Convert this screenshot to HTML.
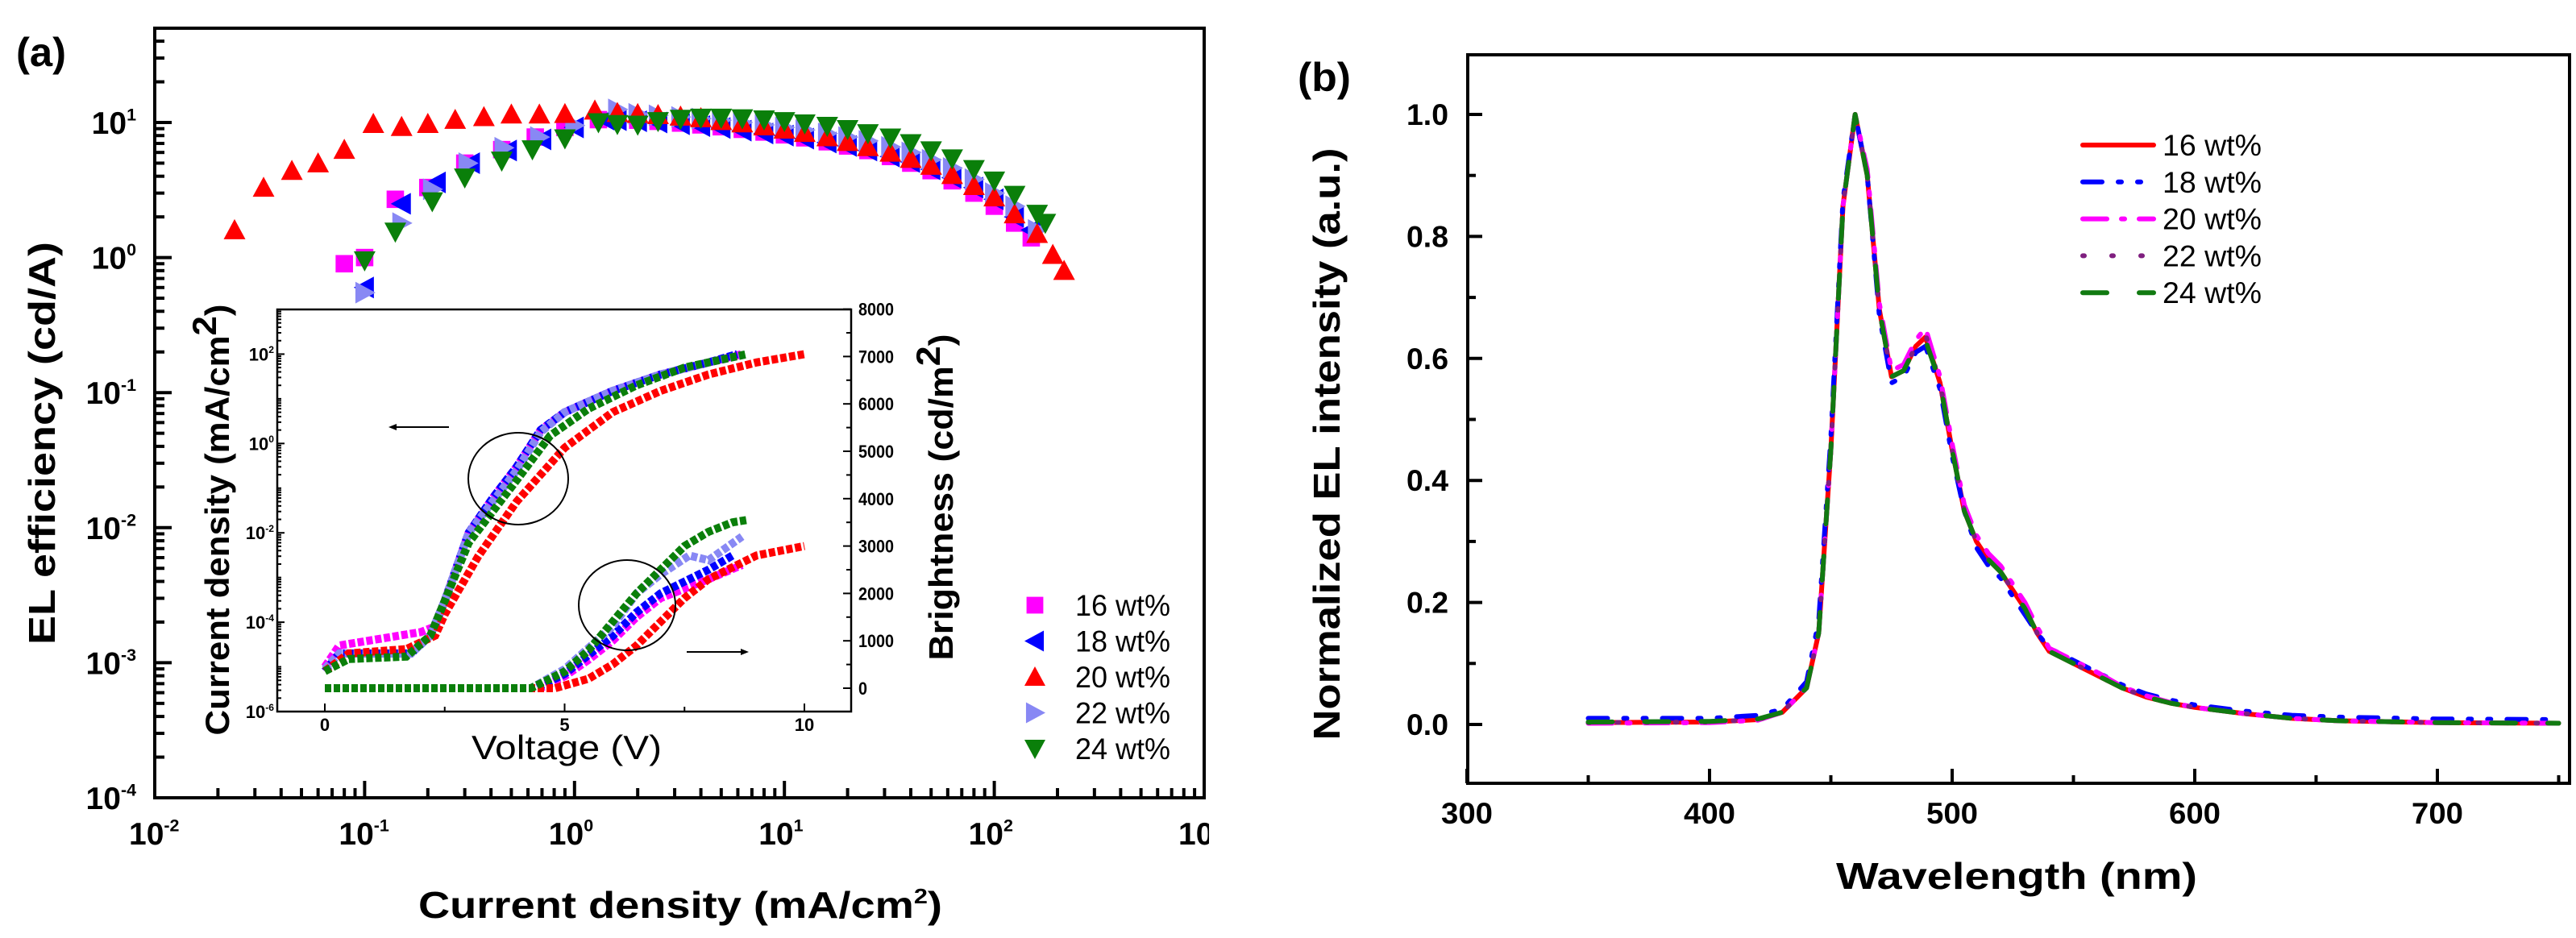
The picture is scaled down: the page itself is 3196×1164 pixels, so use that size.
<!DOCTYPE html>
<html><head><meta charset="utf-8"><style>
html,body{margin:0;padding:0;background:#fff;}
svg{display:block;font-family:"Liberation Sans",sans-serif;}
</style></head><body>
<svg id="fig" width="3196" height="1164" viewBox="0 0 3196 1164" xmlns="http://www.w3.org/2000/svg">
<defs><clipPath id="clipA"><rect x="0" y="0" width="1500" height="1164"/></clipPath></defs>
</svg>
<script>
// ---------- Panel (a) main data: EL efficiency vs current density ----------
const seriesNames = ["16 wt%","18 wt%","20 wt%","22 wt%","24 wt%"];
const x16 = [0.08,0.1,0.14,0.2,0.3,0.45,0.65,0.9,1.3,1.6,2,2.5,3.2,4,5,6.3,8,10,12.5,16,20,25,32,40,50,63,80,100,125,150];
const y16 = [0.9,1.0,2.7,3.3,5.0,6.3,7.8,9.2,10.5,10.6,10.4,10.2,9.9,9.6,9.3,8.9,8.5,8.1,7.7,7.2,6.7,6.2,5.6,5.0,4.4,3.7,3.0,2.4,1.8,1.4];
const x18 = [0.1,0.15,0.22,0.32,0.48,0.7,1.0,1.4,1.6,2,2.5,3.2,4,5,6.3,8,10,12.5,16,20,25,32,40,50,63,80,100,125,150];
const y18 = [0.6,2.5,3.6,5.0,6.2,7.5,9.2,10.5,10.4,10.2,10.0,9.7,9.4,9.1,8.7,8.3,8.0,7.6,7.1,6.7,6.2,5.6,5.1,4.5,3.9,3.3,2.7,2.0,1.6];
const x20 = [0.024,0.033,0.045,0.06,0.08,0.11,0.15,0.2,0.27,0.37,0.5,0.68,0.9,1.25,1.6,2,2.5,3.2,4,5,6.3,8,10,12.5,16,20,25,32,40,50,63,80,100,125,160,190,215];
const y20 = [1.6,3.3,4.4,5.0,6.3,9.8,9.3,9.8,10.5,11,11.5,11.5,11.6,12.3,11.8,11.6,11.4,11.1,10.8,10.3,9.9,9.4,8.9,8.4,7.8,7.2,6.6,6.0,5.4,4.8,4.1,3.4,2.8,2.1,1.5,1.05,0.8];
const x22 = [0.1,0.15,0.21,0.31,0.46,0.68,1.0,1.6,2,2.5,3.2,4,5,6.3,8,10,12.5,16,20,25,32,40,50,63,80,100,125,160];
const y22 = [0.55,1.8,3.2,5.0,6.5,7.8,9.5,12.5,11.6,11.3,11.0,10.7,10.4,10.0,9.6,9.2,8.8,8.3,7.8,7.3,6.6,6.0,5.3,4.6,3.8,3.0,2.4,1.6];
const x24 = [0.1,0.14,0.21,0.3,0.45,0.63,0.9,1.3,1.6,2,2.5,3.2,4,5,6.3,8,10,12.5,16,20,25,32,40,50,63,80,100,125,160,175];
const y24 = [0.95,1.55,2.6,3.9,5.2,6.3,7.6,10.0,9.7,9.6,10.2,10.6,10.8,10.8,10.7,10.5,10.2,9.8,9.4,8.9,8.3,7.7,7.0,6.2,5.4,4.5,3.7,2.9,2.1,1.8];
const aXTicks = ["-2","-1","0","1","2","3"];
const aYTicks = ["1","0","-1","-2","-3","-4"];

// ---------- Inset data: J-V and L-V ----------
const vJ16 = [0,0.3,1,2,2.3,2.5,3,3.5,4,4.5,5,6,7,8,8.7];
const j16  = [1e-5,3e-5,4e-5,6e-5,8e-5,3e-4,1e-2,0.06,0.3,2,5,15,35,65,100];
const vJ18 = [0,0.3,1,1.8,2.2,2.5,3,3.5,4,4.5,5,6,7,8,8.6];
const j18  = [8e-6,2e-5,2e-5,2e-5,5e-5,3e-4,1e-2,0.06,0.3,2,5,15,35,65,100];
const vJ20 = [0,0.5,1.7,2.3,2.5,3.2,4,5,6,7,8,9,10];
const j20  = [8e-6,2e-5,2.5e-5,5e-5,1.5e-4,3e-3,0.05,0.8,5,15,35,65,100];
const vJ22 = [0,0.3,1,1.8,2.2,2.5,3,3.5,4,4.5,5,6,7,8,8.8];
const j22  = [9e-6,2e-5,2e-5,2e-5,5e-5,3e-4,1e-2,0.05,0.25,1.8,5,15,35,65,100];
const vJ24 = [0,0.5,1.7,2.2,2.5,3,4,4.7,5.5,6.5,7.5,8.8];
const j24  = [8e-6,1.5e-5,1.7e-5,5e-5,3e-4,6e-3,0.15,1.5,6,20,50,100];
const vL16 = [0,4.5,5,5.5,6,6.5,7,7.5,8,8.7];
const l16  = [0,0,250,600,1000,1500,1900,2100,2300,2600];
const vL18 = [0,4.4,5,5.5,6,6.5,7,7.5,8,8.5];
const l18  = [0,0,300,700,1100,1600,2000,2250,2500,2800];
const vL20 = [0,4.8,5.5,6,6.5,7,7.5,8,9,10];
const l20  = [0,0,200,500,900,1400,1900,2300,2800,3000];
const vL22 = [0,4.3,5,6,6.5,7,7.6,8,8.7];
const l22  = [0,0,400,1300,2000,2400,2800,2700,3200];
const vL24 = [0,4.3,5,5.5,6,6.5,7,7.5,8,8.5,8.8];
const l24  = [0,0,350,800,1400,2000,2500,3000,3300,3500,3550];
const inYTicks = ["2","0","-2","-4","-6"];
const inRTicks = ["0","1000","2000","3000","4000","5000","6000","7000","8000"];
const inXTicks = ["0","5","10"];

// ---------- Panel (b) data: EL spectra ----------
const wl = [350,400,420,430,440,445,450,455,460,465,470,475,480,485,489,495,500,505,510,515,520,525,530,535,540,550,560,570,580,590,600,620,640,660,700,750];
const s16 = [0.003,0.004,0.008,0.02,0.06,0.15,0.45,0.85,1.0,0.9,0.68,0.57,0.58,0.62,0.635,0.56,0.45,0.35,0.3,0.27,0.25,0.22,0.19,0.15,0.12,0.1,0.08,0.06,0.045,0.035,0.028,0.018,0.01,0.006,0.003,0.002];
const s18 = [0.01,0.01,0.015,0.025,0.07,0.17,0.47,0.86,1.0,0.9,0.67,0.56,0.57,0.61,0.62,0.55,0.44,0.35,0.29,0.26,0.24,0.21,0.18,0.15,0.125,0.105,0.085,0.065,0.05,0.04,0.032,0.022,0.015,0.012,0.009,0.008];
const s20 = [0.002,0.003,0.007,0.02,0.06,0.15,0.45,0.85,1.0,0.91,0.69,0.58,0.59,0.63,0.65,0.57,0.46,0.36,0.31,0.28,0.26,0.23,0.2,0.16,0.125,0.105,0.085,0.062,0.047,0.036,0.028,0.018,0.01,0.006,0.003,0.002];
const s22 = [0.003,0.004,0.008,0.02,0.06,0.15,0.45,0.85,1.0,0.9,0.68,0.57,0.58,0.62,0.64,0.56,0.45,0.35,0.3,0.27,0.25,0.22,0.19,0.15,0.12,0.1,0.08,0.06,0.045,0.035,0.028,0.018,0.01,0.006,0.003,0.002];
const s24 = [0.004,0.005,0.009,0.02,0.06,0.15,0.45,0.85,1.0,0.9,0.68,0.57,0.58,0.62,0.63,0.56,0.45,0.35,0.3,0.27,0.25,0.22,0.19,0.15,0.12,0.1,0.08,0.06,0.045,0.035,0.028,0.018,0.01,0.006,0.003,0.002];
const bXTicks = ["300","400","500","600","700"];
const bYTicks = ["0.0","0.2","0.4","0.6","0.8","1.0"];

const NS="http://www.w3.org/2000/svg";
const svg=document.getElementById('fig');
function mk(tag,attrs,parent){const e=document.createElementNS(NS,tag);for(const k in attrs)e.setAttribute(k,attrs[k]);(parent||svg).appendChild(e);return e;}
function txt(s,attrs,parent){const e=mk('text',attrs,parent);e.textContent=s;return e;}
function sup(base,exp,x,y,size,anchor,parent){const t=mk('text',{x:x,y:y,'font-size':size,'font-weight':'bold','text-anchor':anchor||'start'},parent);
 const a=document.createElementNS(NS,'tspan');a.textContent=base;t.appendChild(a);
 const b=document.createElementNS(NS,'tspan');b.setAttribute('dy',-size*0.42);b.setAttribute('font-size',size*0.55);b.textContent=exp;t.appendChild(b);return t;}

// ===== Panel (a) axes =====
const A={l:192,r:1494,t:35,b:990};
const axL=v=>A.l+(Math.log10(v)+2)*(A.r-A.l)/5;
const ayL=v=>152+(1-Math.log10(v))*167.6;
const ga=mk('g',{'clip-path':'url(#clipA)'});


const fa=mk('rect',{x:A.l,y:A.t,width:A.r-A.l,height:A.b-A.t,fill:'none',stroke:'#000','stroke-width':4},ga);

for(let d=-2;d<3;d++){for(let m=1;m<10;m++){const x=axL(m*Math.pow(10,d));mk('line',{x1:x,x2:x,y1:A.b,y2:A.b-(m==1?21:12),stroke:'#000','stroke-width':4},ga);}}
for(let d=-4;d<2;d++){for(let m=1;m<10;m++){const v=m*Math.pow(10,d);const y=ayL(v);if(y<A.t)continue;mk('line',{x1:A.l,x2:A.l+(m==1?21:12),y1:y,y2:y,stroke:'#000','stroke-width':4},ga);}}
aXTicks.forEach((e,i)=>{const t=sup('10',e,axL(Math.pow(10,+e))-32,1048,39,'start',ga);});
aYTicks.forEach((e,i)=>{const t=sup('10',e,169,ayL(Math.pow(10,+e))+14,39,'end',ga);});
const yta=txt('EL efficiency (cd/A)',{x:0,y:0,'font-size':46,'font-weight':'bold','text-anchor':'middle',transform:'translate(68,550) rotate(-90)',textLength:500,lengthAdjust:'spacingAndGlyphs'},ga);

const xta=mk('text',{x:844,y:1139,'font-size':46,'font-weight':'bold','text-anchor':'middle',textLength:650,lengthAdjust:'spacingAndGlyphs'},ga);
xta.innerHTML='Current density (mA/cm<tspan dy="-18" font-size="26">2</tspan><tspan dy="18">)</tspan>';

const la=txt('(a)',{x:20,y:82,'font-size':50,'font-weight':'bold',textLength:62,lengthAdjust:'spacingAndGlyphs'},ga);


function marker(shape,x,y,s,color,parent){
 const h=s/2;let p;
 if(shape=='sq') p=mk('rect',{x:x-h*0.8,y:y-h*0.8,width:s*0.8,height:s*0.8,fill:color},parent);
 else {let pts;
  if(shape=='up') pts=[[x,y-h],[x+h,y+h*0.85],[x-h,y+h*0.85]];
  else if(shape=='dn') pts=[[x,y+h],[x+h,y-h*0.85],[x-h,y-h*0.85]];
  else if(shape=='lt') pts=[[x-h,y],[x+h*0.85,y-h],[x+h*0.85,y+h]];
  else pts=[[x+h,y],[x-h*0.85,y-h],[x-h*0.85,y+h]];
  p=mk('polygon',{points:pts.map(q=>q.join(',')).join(' '),fill:color},parent);}
 return p;}
const cols=['#ff00ff','#0000ff','#ff0000','#8888f4','#0a7f0a'];
const shapes=['sq','lt','up','rt','dn'];
const XA=[x16,x18,x20,x22,x24],YA=[y16,y18,y20,y22,y24];
[0,1,3,2,4].forEach(si=>{
 const g=mk('g',{},ga);
 
 
 XA[si].forEach((xv,i)=>{const m=marker(shapes[si],axL(xv),ayL(YA[si][i]),27,cols[si],g);
  
  });
});

// ===== Inset =====
const I={l:344,r:1056,t:384,b:883};
const ix=v=>403+v*59.5;
const iyJ=v=>I.b-(Math.log10(v)+6)*(I.b-I.t)/9;
const iyL=v=>854-v*0.0588;
const gi=mk('g',{});


mk('rect',{x:I.l,y:I.t,width:I.r-I.l,height:I.b-I.t,fill:'#fff',stroke:'#000','stroke-width':2.5},gi);
for(let d=-6;d<3;d++){for(let m=1;m<10;m++){const y=iyJ(m*Math.pow(10,d));mk('line',{x1:I.l,x2:I.l+(m==1&&d%2==0?9:5),y1:y,y2:y,stroke:'#000','stroke-width':2},gi);}}
for(let v=0;v<=8000;v+=500){const y=iyL(v);mk('line',{x1:I.r,x2:I.r-(v%1000==0?10:6),y1:y,y2:y,stroke:'#000','stroke-width':2},gi);}
for(let v=0;v<=10;v+=2.5){mk('line',{x1:ix(v),x2:ix(v),y1:I.b,y2:I.b-(v%5==0?10:6),stroke:'#000','stroke-width':2},gi);}
inYTicks.forEach(e=>{const t=sup('10',e,340,iyJ(Math.pow(10,+e))+8,22,'end',gi);});
inRTicks.forEach(s=>{const t=txt(s,{x:1065,y:iyL(+s)+8,'font-size':22,'font-weight':'bold',textLength:s.length*11,lengthAdjust:'spacingAndGlyphs'},gi);});
inXTicks.forEach(s=>{const t=txt(s,{x:ix(+s),y:907,'font-size':22,'font-weight':'bold','text-anchor':'middle'},gi);});
const iyt=mk('text',{'font-size':42,'font-weight':'bold','text-anchor':'middle',transform:'translate(284,645) rotate(-90)',textLength:535,lengthAdjust:'spacingAndGlyphs'},gi);
iyt.innerHTML='Current density (mA/cm<tspan dy="-16" font-size="42">2</tspan><tspan dy="16">)</tspan>';

const irt=mk('text',{'font-size':42,'font-weight':'bold','text-anchor':'middle',transform:'translate(1182,617) rotate(-90)',textLength:405,lengthAdjust:'spacingAndGlyphs'},gi);
irt.innerHTML='Brightness (cd/m<tspan dy="-16" font-size="42">2</tspan><tspan dy="16">)</tspan>';

const ixt=txt('Voltage (V)',{x:703,y:942,'font-size':42,'text-anchor':'middle',textLength:236,lengthAdjust:'spacingAndGlyphs'},gi);

const VJ=[vJ16,vJ18,vJ20,vJ22,vJ24],JJ=[j16,j18,j20,j22,j24],VL=[vL16,vL18,vL20,vL22,vL24],LL=[l16,l18,l20,l22,l24];
[0,1,3,2,4].forEach(si=>{
 const p1=mk('polyline',{points:VJ[si].map((v,i)=>ix(v)+','+iyJ(JJ[si][i])).join(' '),fill:'none',stroke:cols[si],'stroke-width':10,'stroke-dasharray':'8 3'},gi);
 
 
 const p2=mk('polyline',{points:VL[si].map((v,i)=>ix(v)+','+iyL(LL[si][i])).join(' '),fill:'none',stroke:cols[si],'stroke-width':10,'stroke-dasharray':'8 3'},gi);
 
 
});
const e1=mk('ellipse',{cx:643,cy:594,rx:62,ry:57,fill:'none',stroke:'#000','stroke-width':2},gi);

const e2=mk('ellipse',{cx:778,cy:751,rx:60,ry:56,fill:'none',stroke:'#000','stroke-width':2},gi);

const a1=mk('g',{},gi);
mk('line',{x1:489,x2:557,y1:530,y2:530,stroke:'#000','stroke-width':2},a1);mk('polygon',{points:'482,530 492,526 492,534',fill:'#000'},a1);
const a2=mk('g',{},gi);
mk('line',{x1:852,x2:922,y1:809,y2:809,stroke:'#000','stroke-width':2},a2);mk('polygon',{points:'929,809 919,805 919,813',fill:'#000'},a2);

// legend (a)
const lgA=mk('g',{});
seriesNames.forEach((n,i)=>{const y=751+i*44.5;
 const g=mk('g',{},lgA);
 marker(shapes[i],1284,y,26,cols[i],g);
 txt(n,{x:1334,y:y+13,'font-size':37,textLength:118,lengthAdjust:'spacingAndGlyphs'},g);});

// ===== Panel (b) =====
const B={l:1821,r:3188,t:68,b:972};
const bx=v=>1820+(v-300)*3.01;
const by=v=>899-v*757;
const gb=mk('g',{});
const fb=mk('rect',{x:B.l,y:B.t,width:B.r-B.l,height:B.b-B.t,fill:'none',stroke:'#000','stroke-width':4},gb);

for(let v=300;v<=750;v+=50){mk('line',{x1:bx(v),x2:bx(v),y1:B.b,y2:B.b-(v%100==0?18:10),stroke:'#000','stroke-width':4},gb);}
for(let k=0;k<=10;k++){const y=by(k/10);mk('line',{x1:B.l,x2:B.l+(k%2==0?18:10),y1:y,y2:y,stroke:'#000','stroke-width':4},gb);}
bXTicks.forEach(s=>{const t=txt(s,{x:bx(+s),y:1022,'font-size':37,'font-weight':'bold','text-anchor':'middle',textLength:64,lengthAdjust:'spacingAndGlyphs'},gb);});
bYTicks.forEach(s=>{const t=txt(s,{x:1797,y:by(+s)+13,'font-size':37,'font-weight':'bold','text-anchor':'end',textLength:52,lengthAdjust:'spacingAndGlyphs'},gb);});
const ytb=txt('Normalized EL intensity (a.u.)',{'font-size':46,'font-weight':'bold','text-anchor':'middle',transform:'translate(1662,551) rotate(-90)',textLength:735,lengthAdjust:'spacingAndGlyphs'},gb);

const xtb=txt('Wavelength (nm)',{x:2502,y:1103,'font-size':46,'font-weight':'bold','text-anchor':'middle',textLength:448,lengthAdjust:'spacingAndGlyphs'},gb);

const lb=txt('(b)',{x:1610,y:113,'font-size':50,'font-weight':'bold',textLength:66,lengthAdjust:'spacingAndGlyphs'},gb);

const SS=[s16,s18,s20,s22,s24];
const bcols=['#ff0000','#0000ff','#ff00ff','#7f1f7f','#117a11'];
const dashes=['none','24 20 4 20 4 20','30 18 4 18','2 34','30 40'];
[0,1,2,3,4].forEach(si=>{
 const p=mk('polyline',{points:wl.map((w,i)=>bx(w)+','+by(SS[si][i])).join(' '),fill:'none',stroke:bcols[si],'stroke-width':6,'stroke-linecap':'round','stroke-linejoin':'round','stroke-dasharray':dashes[si]},gb);
 
 
});
const lgB=mk('g',{});
seriesNames.forEach((n,i)=>{const y=180+i*45.8;
 const g=mk('g',{},lgB);
 mk('line',{x1:2584,x2:2672,y1:y,y2:y,stroke:bcols[i],'stroke-width':6,'stroke-linecap':'round','stroke-dasharray':dashes[i]},g);
 txt(n,{x:2683,y:y+13,'font-size':37,textLength:123,lengthAdjust:'spacingAndGlyphs'},g);});
</script>
</body></html>
